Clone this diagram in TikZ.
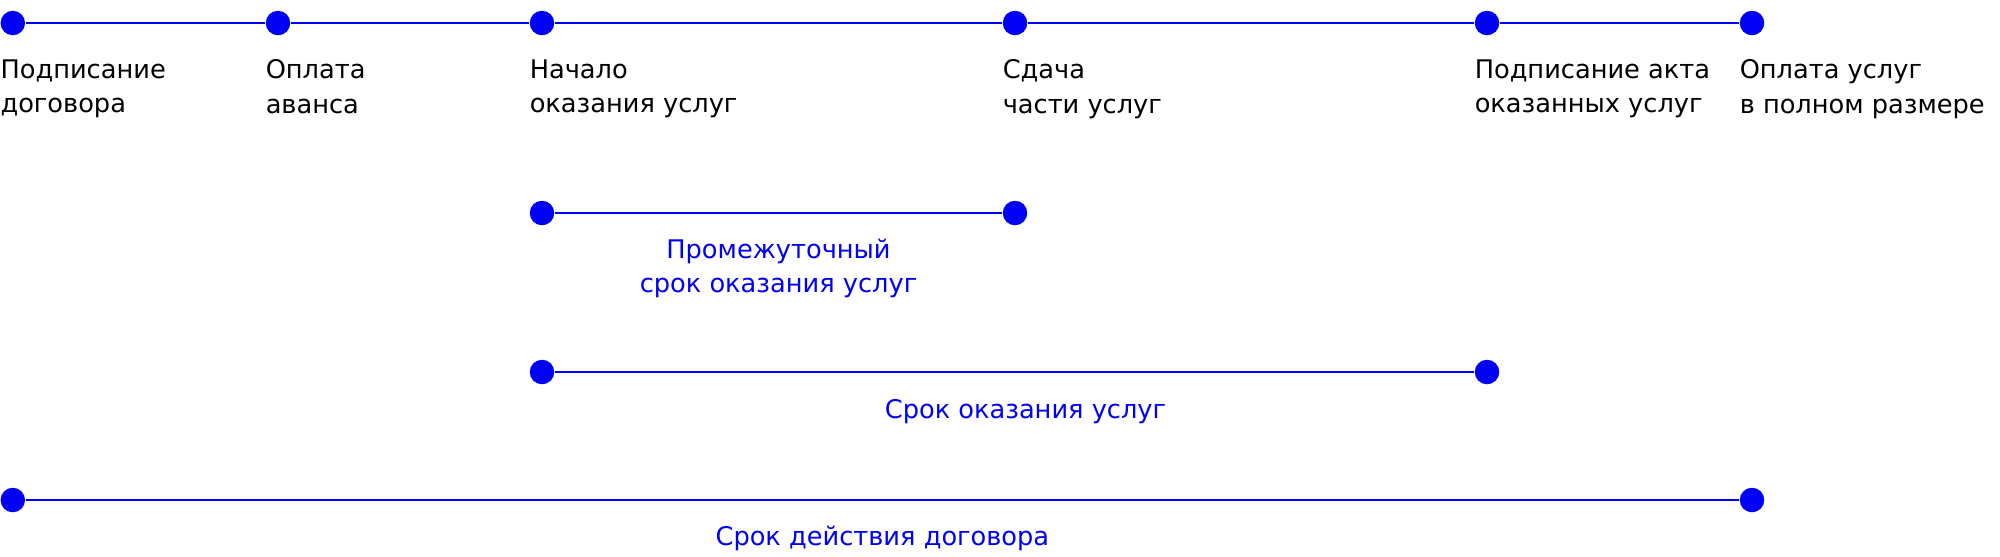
\documentclass[tikz,border=0pt]{standalone}
\usepackage{fontspec}
\setmainfont{DejaVu Sans}
\usetikzlibrary{calc,positioning}
\definecolor{termblue}{RGB}{0,0,245}
\tikzset{
  dot/.style={
    circle,
    fill=termblue,
    inner sep=0pt,
    minimum size=0.245cm},
  span/.style={draw=termblue, line width=0.7pt},
  eventlabel/.style={
    anchor=north west,
    inner sep=0pt,
    align=left,
    font=\fontsize{7.3}{9.8}\selectfont},
  termlabel/.style={
    anchor=north,
    inner sep=0pt,
    align=center,
    text=termblue,
    font=\fontsize{7.3}{9.8}\selectfont},
}
\begin{document}
\begin{tikzpicture}
  \useasboundingbox (0,0) rectangle (20,-5.56);
  % main timeline
  \node[dot] (sign) at (0.128,-0.23) {};
  \node[dot] (advance) at (2.78,-0.23) {};
  \node[dot] (start) at (5.42,-0.23) {};
  \node[dot] (part) at (10.15,-0.23) {};
  \node[dot] (act) at (14.87,-0.23) {};
  \node[dot] (payment) at (17.52,-0.23) {};
  \draw[span] (sign) -- (advance) -- (start) -- (part) -- (act) -- (payment);

  \node[eventlabel] (sign-text) at ($(sign.west)+(0,-0.36)$) {Подписание\\договора};
  \node[eventlabel] (advance-text) at ($(advance.west)+(0,-0.36)$) {Оплата\\аванса};
  \node[eventlabel] (start-text) at ($(start.west)+(0,-0.36)$) {Начало\\оказания услуг};
  \node[eventlabel] (part-text) at ($(part.west)+(0,-0.36)$) {Сдача\\части услуг};
  \node[eventlabel] (act-text) at ($(act.west)+(0,-0.36)$) {Подписание акта\\оказанных услуг};
  \node[eventlabel] (payment-text) at ($(payment.west)+(0,-0.36)$) {Оплата услуг\\в полном размере};

  % terms
  \node[dot] (inter-a) at (5.42,-2.13) {};
  \node[dot] (inter-b) at (10.15,-2.13) {};
  \draw[span] (inter-a) -- (inter-b);
  \node[termlabel] (inter-text) at ($(inter-a)!0.5!(inter-b)+(0,-0.25)$) {Промежуточный\\срок оказания услуг};

  \node[dot] (service-a) at (5.42,-3.72) {};
  \node[dot] (service-b) at (14.87,-3.72) {};
  \draw[span] (service-a) -- (service-b);
  \node[termlabel] (service-text) at ($(service-a)!0.5!(service-b)+(0.11,-0.27)$) {Срок оказания услуг};

  \node[dot] (contract-a) at (0.128,-5.00) {};
  \node[dot] (contract-b) at (17.52,-5.00) {};
  \draw[span] (contract-a) -- (contract-b);
  \node[termlabel] (contract-text) at ($(contract-a)!0.5!(contract-b)+(0,-0.25)$) {Срок действия договора};
\end{tikzpicture}
\end{document}
